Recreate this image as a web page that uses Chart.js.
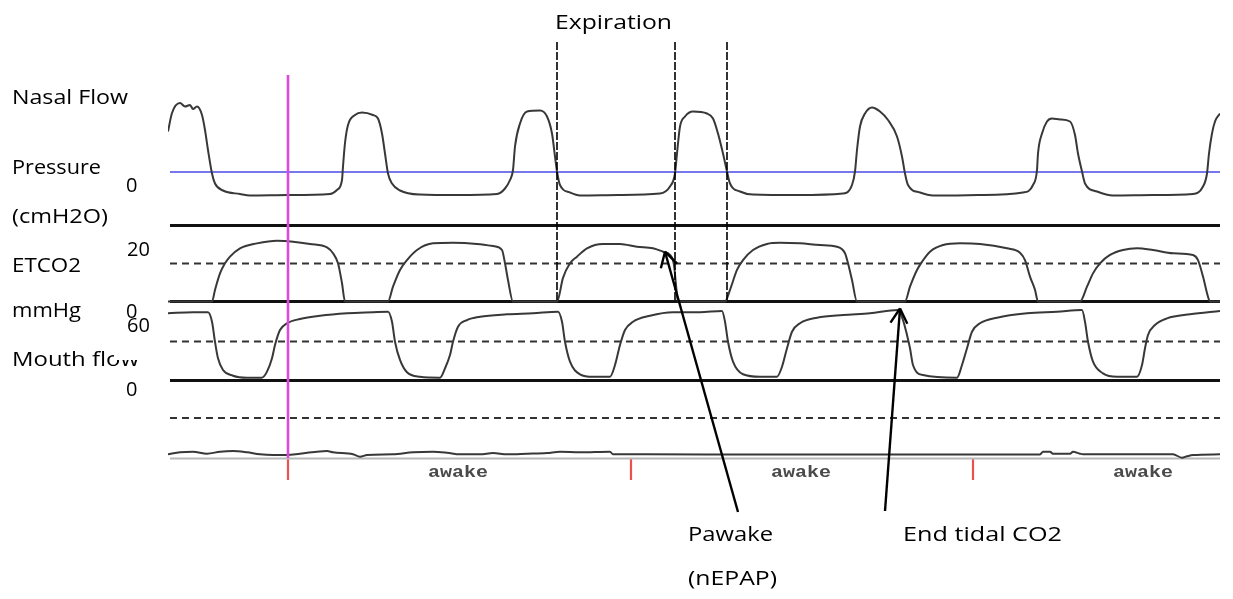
<!DOCTYPE html>
<html>
<head>
<meta charset="utf-8">
<script src="https://cdn.jsdelivr.net/npm/chart.js@4.4.0/dist/chart.umd.min.js"></script>
<style>
  body { margin: 0; background: #fff; }
  #wrap { position: relative; width: 1233px; height: 599px; overflow: hidden; }
  #chart { position: absolute; left: 0; top: 0; }
  .lbl { position: absolute; font-family: "Open Sans", sans-serif; font-size: 20px; line-height: 20px; color: #000; white-space: nowrap; transform-origin: 0 0; }
  .stage { position: absolute; font-family: "Liberation Mono", monospace; font-weight: bold; font-size: 16px; line-height: 16px; color: #4a4a4a; white-space: nowrap; transform-origin: 0 0; }
  .mask { position: absolute; background: #fff; }
</style>
</head>
<body>
<div id="wrap">
  <canvas id="chart" width="1233" height="599"></canvas>
</div>
<script>
// time in seconds from the left edge of the trace window

// nasal flow / pressure (cmH2O)
const nasalTime = [0.0, 0.4, 1.2, 1.7, 2.2, 2.5, 2.9, 3.4, 3.7, 4.0, 4.4, 4.7, 5.5, 7.2, 8.2, 12.0, 16.2, 16.9, 17.4, 17.5, 17.7, 18.0, 18.7, 19.4, 20.5, 21.0, 21.4, 21.7, 22.0, 22.4, 23.2, 25.2, 29.0, 32.9, 33.7, 34.2, 34.5, 34.7, 35.2, 35.9, 37.2, 37.9, 38.4, 38.7, 38.9, 39.2, 40.2, 41.2, 45.0, 49.2, 50.2, 50.7, 50.9, 51.2, 51.7, 52.5, 53.9, 54.5, 55.0, 55.5, 55.9, 56.2, 57.2, 58.5, 63.0, 67.5, 68.4, 68.7, 68.9, 69.2, 69.7, 70.4, 71.2, 72.0, 72.9, 73.4, 73.7, 74.0, 75.2, 76.5, 81.0, 85.5, 86.5, 86.9, 87.0, 87.4, 87.9, 88.4, 89.2, 90.2, 90.7, 91.0, 91.4, 91.7, 92.9, 94.5, 98.5, 102.5, 103.5, 103.9, 104.1, 104.4, 104.7, 105.2];
const nasalFlow = [8.1, 11.8, 13.8, 13.1, 13.4, 12.6, 13.1, 11.4, 8.4, 4.4, -0.3, -2.3, -3.7, -4.4, -4.7, -4.6, -4.4, -3.6, -1.6, 1.1, 5.8, 9.4, 11.4, 11.9, 11.4, 10.7, 7.7, 3.7, -0.3, -2.3, -3.7, -4.5, -4.6, -4.4, -3.3, -1.6, 0.4, 5.1, 9.7, 12.1, 12.3, 11.1, 7.7, 3.1, 0.1, -2.6, -4.1, -4.7, -4.6, -4.3, -2.9, -0.3, 3.7, 9.1, 11.1, 12.1, 11.7, 10.7, 7.7, 3.7, 0.1, -2.3, -3.9, -4.5, -4.6, -4.3, -2.6, 0.1, 4.4, 9.1, 11.7, 12.9, 12.1, 10.4, 7.1, 3.1, -0.3, -2.6, -4.1, -4.7, -4.6, -4.1, -2.6, 0.4, 3.7, 7.7, 10.1, 10.7, 10.5, 10.1, 7.4, 3.7, 0.1, -2.3, -3.9, -4.7, -4.6, -4.4, -2.9, -0.3, 3.7, 7.7, 10.1, 11.7];

// ETCO2 (mmHg)
const etco2Time = [0, 4.4, 4.7, 5.2, 5.7, 6.2, 7.2, 8.9, 10.9, 12.5, 14.2, 15.9, 16.5, 17.0, 17.4, 17.7, 22.0, 22.5, 23.2, 23.9, 24.9, 26.5, 28.5, 30.9, 32.5, 33.4, 33.7, 34.0, 34.5, 38.9, 39.5, 40.2, 40.9, 41.9, 43.5, 45.2, 46.9, 48.5, 49.5, 50.2, 50.6, 50.8, 51.0, 55.7, 56.2, 56.9, 57.5, 58.5, 59.9, 61.2, 63.2, 65.2, 66.9, 67.7, 68.0, 68.4, 68.9, 73.7, 74.2, 74.9, 75.4, 76.2, 77.5, 79.2, 81.2, 83.9, 85.2, 85.7, 86.2, 86.7, 87.0, 91.2, 91.9, 92.5, 93.2, 94.2, 95.5, 96.9, 98.5, 100.5, 102.5, 103.0, 103.5, 104.0, 104.2, 105.2];
const etco2Values = [0, 0, 6.1, 14.8, 20.1, 23.6, 28.0, 30.6, 32.0, 31.5, 30.3, 28.5, 25.4, 20.1, 9.6, 0, 0, 7.8, 16.6, 21.8, 27.1, 30.6, 30.9, 30.3, 29.2, 27.1, 20.1, 11.3, 0, 0, 12.4, 20.1, 23.6, 28.0, 30.3, 30.3, 28.8, 28.0, 26.2, 24.5, 19.2, 8.7, 0, 0, 6.1, 16.6, 21.8, 27.1, 30.3, 30.9, 30.6, 29.7, 28.8, 25.4, 20.1, 11.3, 0, 0, 7.8, 16.6, 20.9, 26.2, 29.7, 30.6, 30.3, 28.0, 25.7, 21.8, 13.1, 6.1, 0, 0, 7.8, 14.8, 20.1, 24.5, 27.1, 28.0, 27.1, 25.4, 24.5, 21.8, 13.1, 2.5, 0, 0];

// mouth flow
const mouthTime = [0.0, 2.5, 4.0, 4.4, 4.7, 5.0, 5.5, 6.5, 7.9, 9.4, 9.9, 10.4, 10.7, 11.2, 11.9, 13.2, 15.2, 17.9, 20.5, 22.0, 22.4, 22.7, 23.2, 23.9, 25.2, 27.2, 27.7, 28.2, 28.5, 29.0, 29.9, 31.2, 33.9, 36.5, 39.0, 39.4, 39.7, 40.2, 41.2, 42.5, 44.2, 44.7, 45.2, 45.7, 46.5, 48.2, 50.5, 53.2, 55.4, 55.7, 56.0, 56.5, 57.5, 59.2, 60.9, 61.4, 61.9, 62.4, 63.2, 64.9, 67.5, 70.2, 73.0, 73.5, 73.9, 74.2, 74.5, 75.5, 78.9, 79.4, 79.9, 80.4, 81.2, 82.9, 85.9, 88.9, 91.4, 91.7, 92.0, 92.5, 93.5, 94.9, 96.9, 97.4, 97.7, 98.0, 98.7, 99.9, 102.2, 105.2];
const mouthValues = [51.7, 52.5, 52.5, 45.2, 29.8, 17.1, 8.1, 3.7, 2.2, 2.2, 6.8, 17.1, 27.3, 38.8, 44.0, 47.3, 49.8, 51.7, 52.5, 52.9, 45.2, 29.8, 15.8, 6.3, 2.9, 2.2, 9.4, 19.6, 29.8, 41.4, 46.5, 49.1, 50.9, 51.7, 52.9, 45.2, 29.8, 14.5, 4.8, 2.9, 2.9, 11.9, 27.3, 38.8, 45.2, 49.8, 52.5, 52.5, 53.5, 45.2, 29.8, 14.5, 4.8, 2.9, 2.9, 10.6, 24.8, 37.5, 44.0, 48.3, 50.4, 51.7, 54.2, 46.5, 35.0, 24.8, 11.9, 4.2, 2.2, 11.9, 24.8, 37.5, 44.0, 48.3, 51.7, 52.9, 54.2, 45.2, 29.8, 14.5, 5.5, 2.9, 2.9, 11.9, 24.8, 35.0, 42.7, 47.8, 50.9, 53.5];

// bottom channel
const lowerTime = [0, 1.2, 2.5, 3.9, 5.2, 6.5, 7.9, 9.2, 10.5, 11.9, 13.2, 15.9, 16.5, 18.5, 19.2, 19.9, 22.5, 24.5, 26.5, 27.9, 29.2, 31.2, 32.5, 33.9, 35.9, 37.9, 39.2, 41.2, 44.2, 44.5, 47.9, 60.0, 75.0, 87.2, 87.5, 88.2, 88.5, 90.2, 90.5, 91.2, 91.5, 100.5, 101.4, 101.9, 102.5, 105.2];
const lowerValues = [0.7, 2.7, 3.3, 1.3, 3.3, 4.0, 2.7, 0.7, 0, 0, 1.3, 4.0, 2.7, 0.7, -1.7, 0, 0.7, 2.7, 3.3, 2.3, 0.7, 0.7, 2.0, 0.7, 1.3, 2.0, 3.3, 2.7, 3.3, 0.7, 0.7, 0.5, 0.5, 0.5, 3.3, 3.3, 1.3, 1.3, 3.3, 1.3, 0.7, 0.7, -2.7, -1.3, 0, 0.7];

// event times
const cursorTime = 12.0;
const epochMarks = [12.0, 46.3, 80.5];
const expirationMarks = [38.9, 50.7, 55.9];

const W = 1233, H = 599, T_END = 105.2;

// axis range so that value 0 lands on zeroPx with pxPerUnit spacing
function band(zeroPx, pxPerUnit) {
    return { min: -(H - zeroPx) / pxPerUnit, max: zeroPx / pxPerUnit };
}

function pts(xs, ys) {
    return xs.map((x, i) => ({ x: x, y: ys[i] }));
}

function trace(label, xs, ys, axis) {
    return {
        label: label, data: pts(xs, ys), yAxisID: axis,
        borderColor: '#383838', borderWidth: 2, pointRadius: 0,
        cubicInterpolationMode: 'monotone', fill: false
    };
}

function hline(axis, value, color, width, dash, x0) {
    return {
        label: 'ref', data: [{ x: x0 || 0.2, y: value }, { x: T_END, y: value }], yAxisID: axis,
        borderColor: color, borderWidth: width, borderDash: dash || [], pointRadius: 0, fill: false
    };
}

function vline(axis, t, y0, y1, color, width, dash) {
    return {
        label: 'mark', data: [{ x: t, y: y0 }, { x: t, y: y1 }], yAxisID: axis,
        borderColor: color, borderWidth: width, borderDash: dash || [], pointRadius: 0, fill: false
    };
}

function arrow(axis, tail, tip) {
    return {
        label: 'arrow', arrow: true, data: [tail, tip], yAxisID: axis,
        borderColor: '#000', borderWidth: 2.4, pointRadius: 0, fill: false
    };
}

const datasets = [];
datasets.push(vline('yNasal', cursorTime, 19.4, -57.2, '#dd48dd', 2.6));
datasets.push(arrow('yEtco2', { x: 57.0, y: -110.8 }, { x: 49.7, y: 26.2 }));
datasets.push(arrow('yMouth', { x: 71.7, y: -100.4 }, { x: 73.2, y: 55.4 }));
expirationMarks.forEach(t => datasets.push(vline('yEtco2', t, 136.6, -0.3, '#000', 1.6, [8, 2])));
datasets.push(trace('Nasal flow', nasalTime, nasalFlow, 'yNasal'));
datasets.push(trace('ETCO2', etco2Time, etco2Values, 'yEtco2'));
datasets.push(trace('Mouth flow', mouthTime, mouthValues, 'yMouth'));
datasets.push(trace('Lower', lowerTime, lowerValues, 'yLower'));
datasets.push(hline('yNasal', 0, '#4a4ae6', 1.6, null, 0));
datasets.push(hline('yEtco2', 40, '#111', 2.8));
datasets.push(hline('yEtco2', 20, '#333', 1.8, [7, 5]));
datasets.push(hline('yEtco2', 0, '#111', 2.8));
datasets.push(hline('yMouth', 30, '#333', 1.8, [7, 5]));
datasets.push(hline('yMouth', 0, '#111', 2.8));
datasets.push(hline('yLower', 37, '#333', 1.8, [7, 5]));
datasets.push(hline('yLower', -3.5, '#b8b8b8', 2, null, 0));
epochMarks.forEach(t => datasets.push(vline('yLower', t, -3, -25, '#ee5050', 2.2)));

// open V head at the tip of every arrow dataset
const arrowHeads = {
    id: 'arrowHeads',
    afterDatasetsDraw(chart) {
        const ctx = chart.ctx;
        chart.data.datasets.forEach((ds, i) => {
            if (!ds.arrow) return;
            const p = chart.getDatasetMeta(i).data;
            const tail = p[0], tip = p[p.length - 1];
            const a = Math.atan2(tail.y - tip.y, tail.x - tip.x);
            ctx.save();
            ctx.strokeStyle = ds.borderColor;
            ctx.lineWidth = ds.borderWidth;
            ctx.beginPath();
            [-1, 1].forEach(s => {
                ctx.moveTo(tip.x, tip.y);
                ctx.lineTo(tip.x + 17 * Math.cos(a + s * 0.52), tip.y + 17 * Math.sin(a + s * 0.52));
            });
            ctx.stroke();
            ctx.restore();
        });
    }
};

new Chart(document.getElementById('chart'), {
    type: 'line',
    data: { datasets: datasets },
    options: {
        responsive: false,
        devicePixelRatio: 1,
        animation: false,
        layout: { padding: { left: 168, right: 13, top: 0, bottom: 0 } },
        plugins: { legend: { display: false }, tooltip: { enabled: false } },
        scales: {
            x: { type: 'linear', min: 0, max: T_END, display: false },
            yNasal: Object.assign({ type: 'linear', display: false }, band(172, 5)),
            yEtco2: Object.assign({ type: 'linear', display: false }, band(301.5, 1.9)),
            yMouth: Object.assign({ type: 'linear', display: false }, band(380.5, 1.3)),
            yLower: Object.assign({ type: 'linear', display: false }, band(455, 1))
        }
    },
    plugins: [arrowHeads]
});

// text: [text, left, baseline, width]
const wrap = document.getElementById('wrap');
function addText(cls, text, left, baseline, width, ascent) {
    const s = document.createElement('span');
    s.className = cls;
    s.textContent = text;
    s.style.left = left + 'px';
    s.style.top = (baseline - ascent) + 'px';
    wrap.appendChild(s);
    if (width) {
        const w = s.getBoundingClientRect().width;
        s.style.transform = 'scaleX(' + (width / w) + ')';
    }
    return s;
}
function mask(left, top, w, h) {
    const m = document.createElement('div');
    m.className = 'mask';
    m.style.left = left + 'px'; m.style.top = top + 'px';
    m.style.width = w + 'px'; m.style.height = h + 'px';
    wrap.appendChild(m);
}

addText('lbl', 'Expiration', 555, 30, 117, 17.8);
addText('lbl', 'Nasal Flow', 12, 105, 116, 17.8);
addText('lbl', 'Pressure', 12, 175, 89, 17.8);
addText('lbl', '0', 126, 192.7, null, 17.8);
addText('lbl', '(cmH2O)', 12, 224, 96, 17.8);
addText('lbl', '20', 127, 256.7, null, 17.8);
addText('lbl', 'ETCO2', 12, 272.5, 69, 17.8);
addText('lbl', 'mmHg', 12, 318, 69, 17.8);
addText('lbl', '0', 126, 319, null, 17.8);
addText('lbl', 'Mouth flow', 12, 367, 127, 17.8);
mask(114, 318, 40, 42);
addText('lbl', '60', 127, 333, null, 17.8);
addText('lbl', '0', 126, 396.7, null, 17.8);
addText('lbl', 'Pawake', 688, 541.7, 85, 17.8);
addText('lbl', '(nEPAP)', 688, 586, 89, 17.8);
addText('lbl', 'End tidal CO2', 903, 542, 159, 17.8);
addText('stage', 'awake', 428, 477, 60, 12.3);
addText('stage', 'awake', 771, 477, 60, 12.3);
addText('stage', 'awake', 1113, 477, 60, 12.3);
</script>
</body>
</html>
